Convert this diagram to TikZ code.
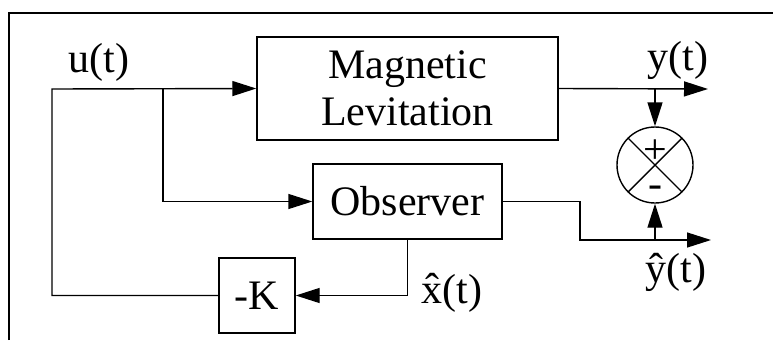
\documentclass[tikz,border=0pt]{standalone}
\usepackage{fontspec}
\setmainfont{Liberation Serif}
\usepackage{tikz}
\usetikzlibrary{positioning, arrows.meta}

\begin{document}
\begin{tikzpicture}[
    x=1pt, y=-1pt,
    line width=1.4pt,
    every node/.style={font=\fontsize{42}{47}\selectfont, inner sep=0pt},
    bloque/.style={draw, rectangle, align=center},
    suma/.style={draw, circle, minimum size=76pt},
    signos/.style={align=center, font=\fontsize{42}{34}\selectfont},
    flecha/.style={-{Triangle[length=24pt, width=15pt]}}
]
\useasboundingbox (0,0) rectangle (773,340);
% marco
\draw (9,340) -- (9,13) -- (773,13);

% bloques
\node[bloque, minimum width=301pt, minimum height=103pt] (planta) at (407.5,88.5) {Magnetic\\Levitation};
\node[bloque, minimum width=189pt, minimum height=75pt] (obs) at (407.5,201.5) {Observer};
\node[bloque, minimum width=76pt, minimum height=75pt] (ganancia) at (257,295.5) {-K};
\node[suma] (sum) at (655,165) {};
\draw (sum.north west) -- (sum.south east);
\draw (sum.north east) -- (sum.south west);
\node[signos, anchor=base] (pm) at (655,197) {+\\-};

% puntos auxiliares
\coordinate (esq) at (52,89);
\coordinate (rama) at (163,89);
\coordinate (ysal) at (708,89);
\coordinate (yrama) at (655,89);
\coordinate (oesq) at (580,240);
\coordinate (yhsal) at (711,240);
\coordinate (yhrama) at (655,240);

% conexiones
\draw[flecha] (ganancia.west) -| (esq) -- (planta.west);
\draw[flecha] (rama) |- (obs.west);
\draw[flecha] (obs.south) |- (ganancia.east);
\draw[flecha] (planta.east) -- (ysal);
\draw[flecha] (yrama) -- (sum.north);
\draw[flecha] (obs.east) -| (oesq) -- (yhsal);
\draw[flecha] (yhrama) -- (sum.south);

% etiquetas
\node[anchor=base] (u) at (99,72) {u(t)};
\node[anchor=base] (y) at (678,70) {y(t)};
\node[anchor=base] (yh) at (676,282) {\^{y}(t)};
\node[anchor=base] (xh) at (452,303) {\^{x}(t)};
\end{tikzpicture}
\end{document}
